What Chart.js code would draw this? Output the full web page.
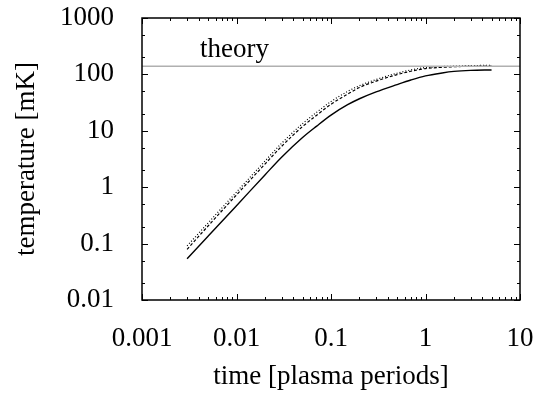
<!DOCTYPE html>
<html><head><meta charset="utf-8">
<script src="https://cdn.jsdelivr.net/npm/chart.js@4/dist/chart.umd.min.js"></script>
<style>html,body{margin:0;padding:0;background:#fff;overflow:hidden;}</style>
</head><body>
<canvas id="c" width="549" height="393"></canvas>
<script>
// ---- data ----
const times  = [0.003,0.005,0.01,0.02,0.03,0.05,0.07,0.1,0.15,0.2,0.3,0.5,0.7,1,1.5,2,3,5];
const solid  = [0.054,0.135,0.47,1.65,3.4,7.6,12,19,29,37,49,66,79.5,94,106,113,118,120];
const dashed = [0.079,0.205,0.73,2.57,5.3,11.9,18.7,29.5,44.7,58.5,76,99,113.7,127,133.6,136.7,139.2,140];
const dotted = [0.091,0.232,0.82,2.9,6.0,13.4,21.1,33,50,63,81,105,120,132.5,138,140,143,145];
const theoryTimes = [0.001, 10];
const theoryValues = [140, 140];
const theoryLabel = 'theory';
const xTicks = [0.001,0.01,0.1,1,10];
const xTickLabels = ['0.001','0.01','0.1','1','10'];
const yTicks = [0.01,0.1,1,10,100,1000];
const yTickLabels = ['0.01','0.1','1','10','100','1000'];
const xMinorMult = [2,3,4,5,6,7,8,9];
const yMinorMult = [2,5];

const FONT = {family:'"Liberation Serif", "Times New Roman", serif', size:27};
const pts = (xs, ys) => xs.map((v,i)=>({x:v, y:ys[i]}));

const framePlugin = {
  id:'frame',
  afterDatasetsDraw(chart){
    const {ctx, chartArea:a, scales:{x, y}} = chart;
    ctx.save();
    ctx.strokeStyle = '#000';
    ctx.lineWidth = 1;
    ctx.beginPath();
    const tickX = (v, len) => {
      const p = Math.round(x.getPixelForValue(v)) + 0.5;
      if (p < a.left - 1 || p > a.right + 1) return;
      ctx.moveTo(p, a.bottom); ctx.lineTo(p, a.bottom - len);
      ctx.moveTo(p, a.top); ctx.lineTo(p, a.top + len);
    };
    const tickY = (v, len) => {
      const p = Math.round(y.getPixelForValue(v)) + 0.5;
      if (p < a.top - 1 || p > a.bottom + 1) return;
      ctx.moveTo(a.left, p); ctx.lineTo(a.left + len, p);
      ctx.moveTo(a.right, p); ctx.lineTo(a.right - len, p);
    };
    xTicks.forEach(v => { tickX(v, 6); xMinorMult.forEach(m => tickX(v*m, 3)); });
    yTicks.forEach(v => { tickY(v, 6); yMinorMult.forEach(m => tickY(v*m, 3)); });
    ctx.stroke();
    ctx.lineWidth = 1.5;
    ctx.strokeRect(a.left, a.top, a.right - a.left, a.bottom - a.top);
    // theory label
    ctx.fillStyle = '#000';
    ctx.font = FONT.size + 'px ' + FONT.family;
    ctx.textBaseline = 'alphabetic';
    ctx.textAlign = 'left';
    ctx.fillText(theoryLabel, x.getPixelForValue(0.0041), y.getPixelForValue(theoryValues[0]) - 9);
    ctx.restore();
  }
};

new Chart(document.getElementById('c'), {
  type:'line',
  data:{
    datasets:[
      {data:pts(theoryTimes, theoryValues), borderColor:'#b0b0b0', borderWidth:1.5, pointRadius:0, tension:0},
      {data:pts(times, solid), borderColor:'#000', borderWidth:1.4, pointRadius:0, cubicInterpolationMode:'monotone'},
      {data:pts(times, dashed), borderColor:'#000', borderWidth:1.2, borderDash:[3,2], pointRadius:0, cubicInterpolationMode:'monotone'},
      {data:pts(times, dotted), borderColor:'#000', borderWidth:1.2, borderDash:[1,2], pointRadius:0, cubicInterpolationMode:'monotone'}
    ]
  },
  options:{
    responsive:false, animation:false, devicePixelRatio:1,
    layout:{padding:{top:18, right:29, left:0, bottom:0}},
    plugins:{legend:{display:false}, tooltip:{enabled:false}},
    scales:{
      x:{
        type:'logarithmic', position:'bottom', min:0.001, max:10,
        afterBuildTicks:s => { s.ticks = xTicks.map(v=>({value:v})); },
        afterFit:s => { s.height = 93; s.paddingLeft = 0; s.paddingRight = 0; },
        ticks:{callback:(v,i)=>xTickLabels[i], font:FONT, color:'#000', padding:15, maxRotation:0, autoSkip:false},
        grid:{display:false}, border:{display:false},
        title:{display:true, text:'time [plasma periods]', font:FONT, color:'#000', padding:{top:0,bottom:0}}
      },
      y:{
        type:'logarithmic', position:'left', min:0.01, max:1000,
        afterBuildTicks:s => { s.ticks = yTicks.map(v=>({value:v})); },
        afterFit:s => { s.width = 142; s.paddingTop = 0; s.paddingBottom = 0; },
        ticks:{callback:(v,i)=>yTickLabels[i], font:FONT, color:'#000', padding:20, autoSkip:false},
        grid:{display:false}, border:{display:false},
        title:{display:true, text:'temperature [mK]', font:FONT, color:'#000', padding:{top:11,bottom:0}}
      }
    }
  },
  plugins:[framePlugin]
});
</script>
</body></html>
